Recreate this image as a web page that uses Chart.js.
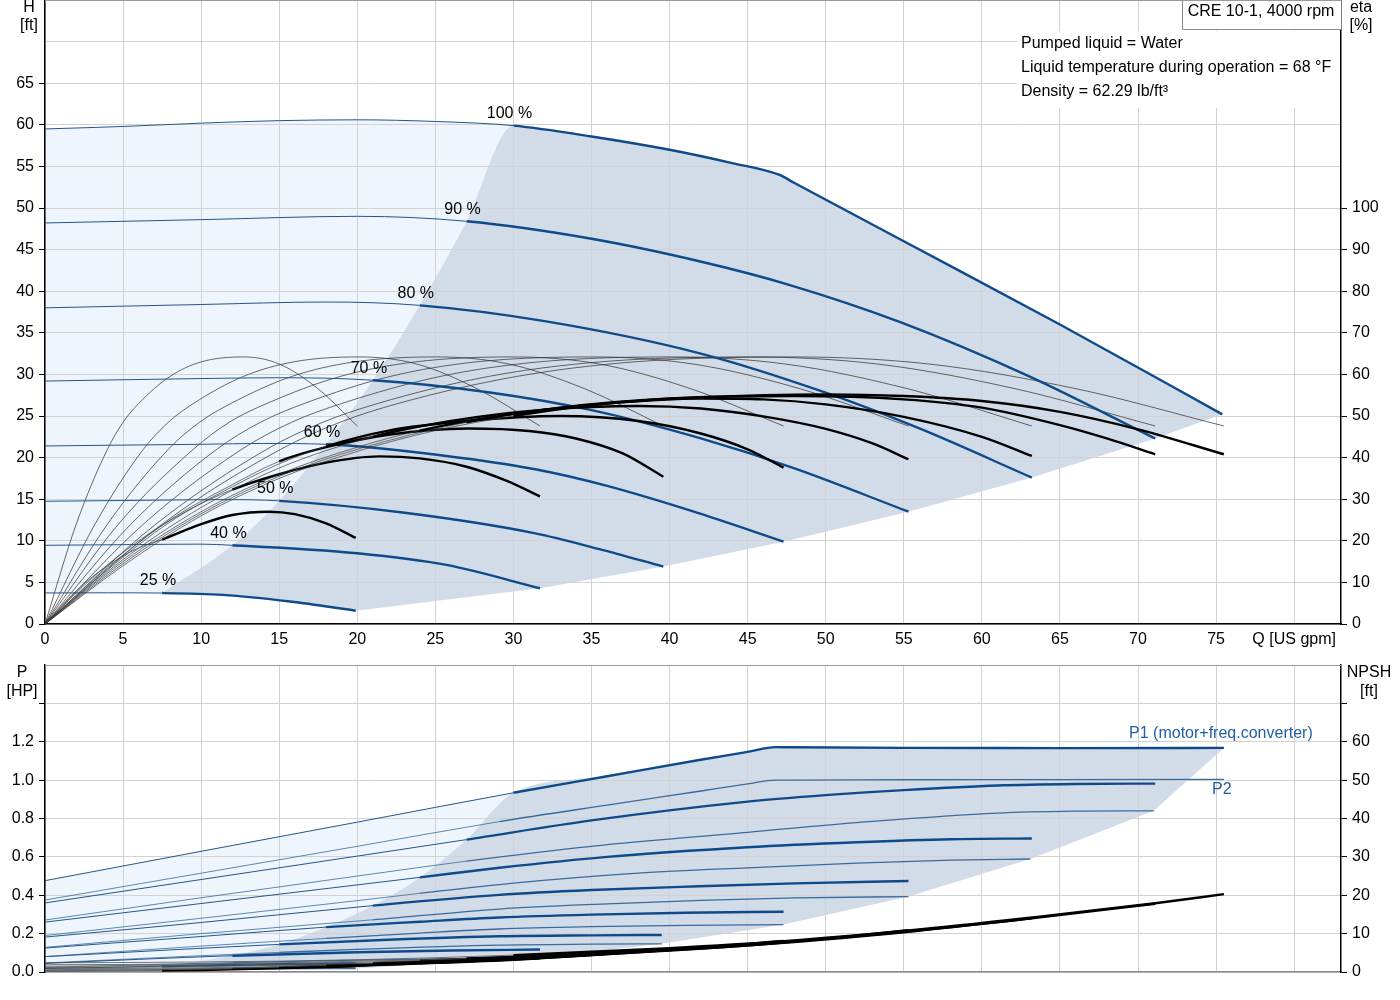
<!DOCTYPE html>
<html>
<head>
<meta charset="utf-8">
<title>CRE 10-1, 4000 rpm</title>
<script src="https://cdn.jsdelivr.net/npm/chart.js@4.4.1/dist/chart.umd.min.js"></script>
<style>
  body { margin: 0; background: #fff; }
  #wrap { position: relative; width: 1400px; height: 1000px; }
  canvas { position: absolute; left: 0; }
  #hq { top: 0; }
  #pq { top: 660px; }
</style>
</head>
<body>
<div id="wrap">
  <canvas id="hq" width="1400" height="660"></canvas>
  <canvas id="pq" width="1400" height="340"></canvas>
</div>
<script>
const FONT = "'Liberation Sans', Arial, sans-serif";
Chart.defaults.font.family = FONT;
Chart.defaults.font.size = 16;
Chart.defaults.color = '#000';
Chart.defaults.animation = false;

// Drehzahlen und Mindestfoerderstrom (Beginn des Betriebsbereichs)
const speedLabels = ['100 %', '90 %', '80 %', '70 %', '60 %', '50 %', '40 %', '25 %'];
const minFlow = [30, 27, 24, 21, 18, 15, 12, 7.5];

// Foerderhoehe H [ft]
const head100Q = [0, 5, 10, 15, 20, 25, 30, 35, 40, 44, 47, 48, 55, 65, 75.4];
const head100H = [59.5, 59.8, 60.2, 60.5, 60.6, 60.4, 59.9, 58.6, 57.0, 55.4, 54.0, 53.0, 46.0, 36.0, 25.2];
const head90Q = [0, 10, 20, 27, 35, 41.9, 47.6, 54.9, 63, 71.1];
const head90H = [48.2, 48.6, 49.0, 48.4, 46.3, 43.6, 40.8, 36.2, 29.8, 22.3];
const head80Q = [0, 10, 18, 24, 32, 42, 50, 56, 63.2];
const head80H = [38.0, 38.4, 38.7, 38.3, 36.4, 32.5, 27.8, 23.5, 17.6];
const head70Q = [0, 10, 15, 21, 28.6, 35, 42, 48, 55.3];
const head70H = [29.2, 29.5, 29.6, 29.3, 27.8, 25.7, 22.3, 18.7, 13.5];
const head60Q = [0, 10, 14, 18, 25.7, 31.4, 36, 41.9, 47.3];
const head60H = [21.4, 21.6, 21.7, 21.6, 20.2, 18.6, 16.6, 13.3, 9.9];
const head50Q = [0, 8, 11.5, 15, 22.9, 31.4, 35.5, 39.6];
const head50H = [14.75, 14.9, 14.95, 14.8, 13.4, 10.9, 9.0, 6.9];
const head40Q = [0, 6, 10, 12, 20, 25.7, 31.7];
const head40H = [9.46, 9.55, 9.6, 9.46, 8.5, 7.1, 4.3];
const head25Q = [0, 4, 7.5, 11.4, 15.7, 19.9];
const head25H = [3.73, 3.75, 3.72, 3.5, 2.7, 1.6];

// Wirkungsgrad Pumpe (duenn) [%]
const etaPumpVals = [0, 24, 42, 48.5, 53, 59.5, 63, 64.2, 62.5, 56.5, 47.6];
const etaPump100Q = [0, 7.5, 15.1, 18.9, 22.6, 30.2, 37.7, 47.9, 56.6, 66.1, 75.5];
const etaPump90Q = [0, 7.1, 14.2, 17.8, 21.3, 28.4, 35.5, 45.1, 53.3, 62.2, 71.1];
const etaPump80Q = [0, 6.3, 12.6, 15.8, 19, 25.3, 31.6, 40.1, 47.4, 55.3, 63.2];
const etaPump70Q = [0, 5.5, 11, 13.8, 16.6, 22.1, 27.6, 35.1, 41.5, 48.4, 55.3];
const etaPump60Q = [0, 4.7, 9.5, 11.8, 14.2, 18.9, 23.7, 30, 35.5, 41.4, 47.3];
const etaPump50Q = [0, 4, 7.9, 9.9, 11.9, 15.8, 19.8, 25.1, 29.7, 34.6, 39.6];
const etaPump40Q = [0, 3.2, 6.3, 7.9, 9.5, 12.7, 15.9, 20.1, 23.8, 27.7, 31.7];
const etaPump25Q = [0, 2, 4, 5, 6, 8, 10, 12.7, 15, 17.5, 20];

// Wirkungsgrad gesamt (dick) [%]
const etaTot100Q = [0, 5, 10, 15, 20, 25, 30, 36, 42, 50, 55, 60, 65, 70, 75.5];
const etaTot100 = [0, 14, 26, 35, 41.5, 46.5, 50, 53, 54.5, 55.2, 54.8, 53.6, 51, 46.8, 40.8];
const etaTot90Q = [0, 5, 10, 15, 20, 27, 33, 40, 48, 55, 60, 65, 68, 71.1];
const etaTot90 = [0, 14.5, 26.5, 35.5, 42, 48.5, 52, 54.2, 54.8, 54, 52, 47.8, 44.6, 40.8];
const etaTot80Q = [0, 5, 10, 15, 20, 24, 30, 36, 42, 46, 50, 55, 60, 63.2];
const etaTot80 = [0, 15, 27, 36, 42.5, 46.5, 50.5, 53, 54.2, 54, 52.8, 49.8, 45, 40.4];
const etaTot70Q = [0, 5, 10, 15, 21, 26, 32, 38, 42, 46, 50, 53, 55.3];
const etaTot70 = [0, 15.5, 28, 37.5, 45, 48.8, 51.5, 52.4, 51.8, 49.9, 46.9, 43.4, 39.6];
const etaTot60Q = [0, 4, 8, 12, 15, 18, 22, 27, 33, 38, 42, 45, 47.3];
const etaTot60 = [0, 13, 24.5, 33, 38.5, 42.7, 46.5, 48.8, 50, 48.8, 45.8, 42, 37.6];
const etaTot50Q = [0, 4, 8, 12, 15, 18, 22, 27.1, 31, 34, 37, 39.6];
const etaTot50 = [0, 13.5, 25, 33.5, 39.1, 42.5, 45.5, 47, 46.4, 44.6, 41, 35.4];
const etaTot40Q = [0, 3, 6, 9, 12, 15, 18, 21.4, 24, 27, 29.5, 31.7];
const etaTot40 = [0, 11, 20, 27, 32.3, 36, 38.8, 40.3, 39.8, 37.8, 34.5, 30.7];
const etaTot25Q = [0, 2, 4, 6, 7.5, 10, 12, 14.3, 16, 18, 19.9];
const etaTot25 = [0, 8, 14, 18.3, 20.3, 24, 26.2, 27, 26.4, 24.2, 20.7];

// Leistung P1 (Motor+FU) [HP]
const p1_100Q = [0, 10, 20, 30, 36, 41.9, 45, 46.8, 48, 55, 65, 75.5];
const p1_100 = [0.476, 0.629, 0.781, 0.934, 1.02, 1.105, 1.147, 1.172, 1.171, 1.168, 1.167, 1.168];
const p1_90Q = [0, 10, 20, 27, 35, 45, 50, 55, 61, 66, 71.1];
const p1_90 = [0.36, 0.482, 0.604, 0.69, 0.79, 0.888, 0.922, 0.948, 0.972, 0.98, 0.982];
const p1_80Q = [0, 10, 20, 24, 29.1, 36, 45, 52, 58, 63.2];
const p1_80 = [0.26, 0.357, 0.454, 0.493, 0.543, 0.6, 0.65, 0.676, 0.692, 0.696];
const p1_70Q = [0, 10, 21, 29.1, 35, 41.9, 48, 55.3];
const p1_70 = [0.182, 0.258, 0.346, 0.402, 0.427, 0.447, 0.462, 0.474];
const p1_60Q = [0, 10, 18, 24, 29.1, 35, 41, 47.3];
const p1_60 = [0.125, 0.185, 0.234, 0.262, 0.284, 0.299, 0.309, 0.314];
const p1_50Q = [0, 8, 15, 22, 29.1, 35, 39.5];
const p1_50 = [0.08, 0.115, 0.144, 0.168, 0.186, 0.191, 0.193];
const p1_40Q = [0, 6, 12, 20, 26, 31.7];
const p1_40 = [0.045, 0.066, 0.085, 0.103, 0.112, 0.117];
const p1_25Q = [0, 7.5, 14, 19.9];
const p1_25 = [0.018, 0.03, 0.04, 0.045];

// Leistung P2 [HP]
const p2_100Q = [0, 10, 20, 29.1, 36, 41.9, 45, 46.8, 48, 55, 65, 75.5];
const p2_100 = [0.375, 0.515, 0.655, 0.784, 0.87, 0.942, 0.98, 1.0, 1.0, 1.002, 1.003, 1.004];
const p2_90Q = [0, 10, 20, 27, 35, 45, 53, 61, 66, 71];
const p2_90 = [0.271, 0.387, 0.5, 0.578, 0.655, 0.728, 0.785, 0.828, 0.838, 0.84];
const p2_80Q = [0, 10, 20, 24, 30, 38, 45, 52, 58, 63.1];
const p2_80 = [0.19, 0.28, 0.372, 0.41, 0.463, 0.515, 0.543, 0.567, 0.583, 0.589];
const p2_70Q = [0, 10, 21, 29.1, 36, 42, 48, 55.3];
const p2_70 = [0.128, 0.2, 0.272, 0.328, 0.355, 0.373, 0.386, 0.393];
const p2_60Q = [0, 10, 18, 24, 29.1, 35, 41, 47.3];
const p2_60 = [0.08, 0.135, 0.175, 0.203, 0.224, 0.236, 0.243, 0.247];
const p2_50Q = [0, 10, 15, 20, 29.1, 35, 39.5];
const p2_50 = [0.047, 0.085, 0.102, 0.118, 0.14, 0.145, 0.147];
const p2_40Q = [0, 10, 12, 20, 31.7];
const p2_40 = [0.024, 0.045, 0.049, 0.062, 0.075];
const p2_25Q = [0, 7.5, 14, 19.9];
const p2_25 = [0.006, 0.012, 0.016, 0.018];

// NPSH [ft]
const npsh100Q = [0, 10, 20, 30, 40, 47.3, 55.3, 63.2, 71.1, 75.5];
const npsh100 = [2.4, 2.6, 3.2, 4.4, 6.2, 8.0, 10.8, 14.2, 17.9, 20.3];
const npsh90Q = [0, 10, 20, 27, 40, 47.3, 55.3, 63.2, 71.1];
const npsh90 = [1.9, 2.1, 2.8, 3.5, 5.9, 7.8, 10.6, 14.0, 17.8];
const npsh80Q = [0, 10, 20, 24, 40, 47.3, 55.3, 63.2];
const npsh80 = [1.5, 1.75, 2.5, 3.0, 5.7, 7.6, 10.5, 14.0];
const npsh70Q = [0, 10, 21, 30, 40, 47.3, 55.3];
const npsh70 = [1.15, 1.4, 2.3, 3.5, 5.6, 7.7, 10.9];
const npsh60Q = [0, 10, 18, 30, 40, 47.3];
const npsh60 = [0.85, 1.1, 1.7, 3.3, 5.7, 8.1];
const npsh50Q = [0, 10, 15, 30, 39.6];
const npsh50 = [0.6, 0.9, 1.25, 3.2, 5.8];
const npsh40Q = [0, 10, 12, 20, 31.7];
const npsh40 = [0.4, 0.7, 0.85, 1.6, 3.6];
const npsh25Q = [0, 7.5, 10, 19.9];
const npsh25 = [0.15, 0.4, 0.5, 1.5];

// Farben
const GRID = '#d2d2d2';
const LIGHT = '#eef5fc';
const DARK = '#d1dce8';
const BLUE = '#0e4a89';
const BLUE_THIN = '#24558c';
const P2_BLUE = '#3a6a9c';
const LABEL_BLUE = '#1f5fa3';

const pts = (qs, vs) => qs.map((q, i) => ({ x: q, y: vs[i] }));
const invisible = 'rgba(0,0,0,0)';

// Kurve mit duennem Teil links vom Betriebsbereich
function curve(qs, vs, qMin, axis, thin, thick) {
  return {
    data: pts(qs, vs),
    yAxisID: axis,
    borderColor: thick.color,
    borderWidth: thick.width,
    pointRadius: 0,
    fill: false,
    cubicInterpolationMode: 'monotone',
    segment: {
      borderColor: c => (c.p1.parsed.x <= qMin + 1e-6 ? thin.color : thick.color),
      borderWidth: c => (c.p1.parsed.x <= qMin + 1e-6 ? thin.width : thick.width)
    }
  };
}

function area(points, axis, color, target, straight) {
  return {
    data: points,
    yAxisID: axis,
    borderWidth: 0,
    borderColor: invisible,
    backgroundColor: color,
    pointRadius: 0,
    fill: target,
    tension: 0,
    cubicInterpolationMode: straight ? 'default' : 'monotone'
  };
}

// Bereichsgrenzen aus den Kurven bilden
function regions(sets, lowSet, lowEnds, axis) {
  const turn = sets.map(([q, v], i) => ({ x: minFlow[i], y: v[q.indexOf(minFlow[i])] }));
  const ascTurn = turn.slice().reverse();
  const top = pts(sets[0][0], sets[0][1]);
  const low = pts(lowSet[0], lowSet[1]);
  const darkTop = ascTurn.concat(top.filter(p => p.x > minFlow[0]));
  const darkBottom = low.filter(p => p.x >= minFlow[7]).concat(lowEnds);
  const lightTop = top.filter(p => p.x <= minFlow[0]);
  const lightBottom = low.filter(p => p.x <= minFlow[7]).concat(ascTurn.slice(1));
  return {
    turn,
    fills: [
      area(darkTop, axis, DARK, 1, false),
      area(darkBottom, axis, invisible, false, true),
      area(lightTop, axis, LIGHT, 3, false),
      area(lightBottom, axis, invisible, false, false)
    ]
  };
}

const lastPt = ([q, v]) => ({ x: q[q.length - 1], y: v[v.length - 1] });

// ---------- oberes Diagramm: H / eta ----------
const headSets = [
  [head100Q, head100H], [head90Q, head90H], [head80Q, head80H], [head70Q, head70H],
  [head60Q, head60H], [head50Q, head50H], [head40Q, head40H], [head25Q, head25H]
];
const etaTotSets = [
  [etaTot100Q, etaTot100], [etaTot90Q, etaTot90], [etaTot80Q, etaTot80], [etaTot70Q, etaTot70],
  [etaTot60Q, etaTot60], [etaTot50Q, etaTot50], [etaTot40Q, etaTot40], [etaTot25Q, etaTot25]
];
const etaPumpQs = [etaPump100Q, etaPump90Q, etaPump80Q, etaPump70Q, etaPump60Q, etaPump50Q, etaPump40Q, etaPump25Q];

const headEnds = headSets.slice(1, 7).reverse().map(lastPt).concat([lastPt(headSets[0])]);
const hqRegions = regions(headSets, headSets[7], headEnds, 'h');

const hqDatasets = hqRegions.fills
  .concat(etaTotSets.map(([q, v], i) => curve(q, v, minFlow[i], 'eta',
    { color: '#3a3a3a', width: 0.7 }, { color: '#000', width: 2.4 })))
  .concat(headSets.map(([q, v], i) => curve(q, v, minFlow[i], 'h',
    { color: BLUE_THIN, width: 1 }, { color: BLUE, width: 2.4 })))
  .concat(etaPumpQs.map(q => ({
    data: pts(q, etaPumpVals), yAxisID: 'eta', borderColor: '#2a2a2a', borderWidth: 0.7,
    pointRadius: 0, fill: false, cubicInterpolationMode: 'monotone'
  })));

const hqNotes = {
  id: 'hqNotes',
  afterDraw(chart) {
    const { ctx, chartArea: a, scales } = chart;
    ctx.save();
    ctx.strokeStyle = '#9a9a9a';
    ctx.lineWidth = 1;
    ctx.beginPath(); ctx.moveTo(a.left, a.top + 0.5); ctx.lineTo(a.right, a.top + 0.5); ctx.stroke();

    ctx.font = '16px ' + FONT;
    ctx.fillStyle = '#000';
    ctx.textAlign = 'center';
    ctx.textBaseline = 'middle';
    hqRegions.turn.forEach((p, i) => {
      ctx.fillText(speedLabels[i], scales.x.getPixelForValue(p.x) - 4, scales.h.getPixelForValue(p.y) - 12);
    });
    ctx.fillText('H', a.left - 16, 8);
    ctx.fillText('[ft]', a.left - 16, 26);
    ctx.fillText('eta', a.right + 20, 8);
    ctx.fillText('[%]', a.right + 20, 26);

    // Typenschild
    ctx.fillStyle = '#fff';
    ctx.fillRect(a.right - 159, a.top + 1, 159, 28);
    ctx.strokeStyle = '#8c8c8c';
    ctx.beginPath();
    ctx.moveTo(a.right - 158.5, a.top); ctx.lineTo(a.right - 158.5, a.top + 29.5); ctx.lineTo(a.right, a.top + 29.5);
    ctx.stroke();
    ctx.fillStyle = '#000';
    ctx.fillText('CRE 10-1, 4000 rpm', a.right - 80, a.top + 12);

    // Medium
    ctx.fillStyle = '#fff';
    ctx.fillRect(a.right - 324, a.top + 31, 323, 77);
    ctx.fillStyle = '#000';
    ctx.textAlign = 'left';
    ctx.fillText('Pumped liquid = Water', a.right - 320, a.top + 44);
    ctx.fillText('Liquid temperature during operation = 68 °F', a.right - 320, a.top + 68);
    ctx.fillText('Density = 62.29 lb/ft³', a.right - 320, a.top + 92);
    ctx.restore();
  }
};

new Chart(document.getElementById('hq'), {
  type: 'line',
  data: { datasets: hqDatasets },
  plugins: [hqNotes],
  options: {
    responsive: false,
    events: [],
    layout: { padding: { top: 0, left: 0, right: 0, bottom: 0 } },
    plugins: {
      legend: { display: false },
      tooltip: { enabled: false },
      filler: { drawTime: 'beforeDraw' }
    },
    scales: {
      x: {
        type: 'linear', min: 0, max: 83,
        border: { color: '#000', width: 1.5 },
        grid: { color: GRID, drawTicks: false },
        ticks: {
          stepSize: 5, includeBounds: false, autoSkip: false, maxRotation: 0, padding: 6,
          callback: v => (v === 80 ? 'Q [US gpm]' : v)
        },
        afterFit: s => { s.height = 36; s.paddingLeft = 0; s.paddingRight = 0; }
      },
      h: {
        position: 'left', min: 0, max: 75,
        border: { color: '#000', width: 1.5 },
        grid: { color: GRID, tickLength: 6, tickColor: c => (c.tick && c.tick.value <= 65 ? '#000' : invisible) },
        ticks: { stepSize: 5, padding: 5, autoSkip: false, callback: v => (v <= 65 ? v : '') },
        afterFit: s => { s.width = 45; s.paddingTop = 0; s.paddingBottom = 0; }
      },
      eta: {
        position: 'right', min: 0, max: 150,
        border: { color: '#000', width: 1.5 },
        grid: { drawOnChartArea: false, tickLength: 6, tickColor: c => (c.tick && c.tick.value <= 100 ? '#000' : invisible) },
        ticks: { stepSize: 10, padding: 5, autoSkip: false, callback: v => (v <= 100 ? v : '') },
        afterFit: s => { s.width = 59; s.paddingTop = 0; s.paddingBottom = 0; }
      }
    }
  }
});

// ---------- unteres Diagramm: P / NPSH ----------
const p1Sets = [
  [p1_100Q, p1_100], [p1_90Q, p1_90], [p1_80Q, p1_80], [p1_70Q, p1_70],
  [p1_60Q, p1_60], [p1_50Q, p1_50], [p1_40Q, p1_40], [p1_25Q, p1_25]
];
const p2Sets = [
  [p2_100Q, p2_100], [p2_90Q, p2_90], [p2_80Q, p2_80], [p2_70Q, p2_70],
  [p2_60Q, p2_60], [p2_50Q, p2_50], [p2_40Q, p2_40], [p2_25Q, p2_25]
];
const npshSets = [
  [npsh100Q, npsh100], [npsh90Q, npsh90], [npsh80Q, npsh80], [npsh70Q, npsh70],
  [npsh60Q, npsh60], [npsh50Q, npsh50], [npsh40Q, npsh40], [npsh25Q, npsh25]
];

const pEnds = p2Sets.slice(1, 7).reverse().map(lastPt).concat([lastPt(p1Sets[0])]);
const pqRegions = regions(p1Sets, p2Sets[7], pEnds, 'p');

const pqDatasets = pqRegions.fills
  .concat(npshSets.map(([q, v], i) => curve(q, v, minFlow[i], 'npsh',
    { color: '#555', width: 0.8 }, { color: '#000', width: 2.4 })))
  .concat(p1Sets.map(([q, v], i) => curve(q, v, minFlow[i], 'p',
    { color: BLUE_THIN, width: 1 }, { color: BLUE, width: 2.4 })))
  .concat(p2Sets.map(([q, v], i) => curve(q, v, minFlow[i], 'p',
    { color: P2_BLUE, width: 0.8 }, { color: P2_BLUE, width: 1.3 })));

const pqNotes = {
  id: 'pqNotes',
  afterDraw(chart) {
    const { ctx, chartArea: a, scales } = chart;
    ctx.save();
    ctx.strokeStyle = '#9a9a9a';
    ctx.lineWidth = 1;
    ctx.beginPath(); ctx.moveTo(a.left, a.top + 0.5); ctx.lineTo(a.right, a.top + 0.5); ctx.stroke();

    ctx.font = '16px ' + FONT;
    ctx.fillStyle = '#000';
    ctx.textAlign = 'center';
    ctx.textBaseline = 'middle';
    ctx.fillText('P', a.left - 23, a.top + 8);
    ctx.fillText('[HP]', a.left - 23, a.top + 27);
    ctx.fillText('NPSH', a.right + 28, a.top + 8);
    ctx.fillText('[ft]', a.right + 28, a.top + 27);

    const e1 = lastPt(p1Sets[0]);
    const e2 = lastPt(p2Sets[0]);
    ctx.fillStyle = LABEL_BLUE;
    ctx.fillText('P1 (motor+freq.converter)', scales.x.getPixelForValue(e1.x) - 3, scales.p.getPixelForValue(e1.y) - 14);
    ctx.fillText('P2', scales.x.getPixelForValue(e2.x) - 2, scales.p.getPixelForValue(e2.y) + 10);
    ctx.restore();
  }
};

new Chart(document.getElementById('pq'), {
  type: 'line',
  data: { datasets: pqDatasets },
  plugins: [pqNotes],
  options: {
    responsive: false,
    events: [],
    layout: { padding: { top: 5, left: 0, right: 0, bottom: 0 } },
    plugins: {
      legend: { display: false },
      tooltip: { enabled: false },
      filler: { drawTime: 'beforeDraw' }
    },
    scales: {
      x: {
        type: 'linear', min: 0, max: 83,
        border: { color: '#8a8a8a', width: 1.5 },
        grid: { color: GRID, drawTicks: false },
        ticks: { display: false, stepSize: 5, includeBounds: false, autoSkip: false },
        afterFit: s => { s.height = 28; s.paddingLeft = 0; s.paddingRight = 0; }
      },
      p: {
        position: 'left', min: 0, max: 1.6,
        border: { color: '#000', width: 1.5 },
        grid: { color: GRID, tickLength: 6, tickColor: c => (c.tick && c.tick.value < 1.45 ? '#000' : invisible) },
        ticks: { stepSize: 0.2, padding: 5, autoSkip: false, callback: v => (v < 1.25 ? v.toFixed(1) : '') },
        afterFit: s => { s.width = 45; s.paddingTop = 0; s.paddingBottom = 0; }
      },
      npsh: {
        position: 'right', min: 0, max: 80,
        border: { color: '#000', width: 1.5 },
        grid: { drawOnChartArea: false, tickLength: 6, tickColor: c => (c.tick && c.tick.value <= 70 ? '#000' : invisible) },
        ticks: { stepSize: 10, padding: 5, autoSkip: false, callback: v => (v <= 60 ? v : '') },
        afterFit: s => { s.width = 59; s.paddingTop = 0; s.paddingBottom = 0; }
      }
    }
  }
});
</script>
</body>
</html>
